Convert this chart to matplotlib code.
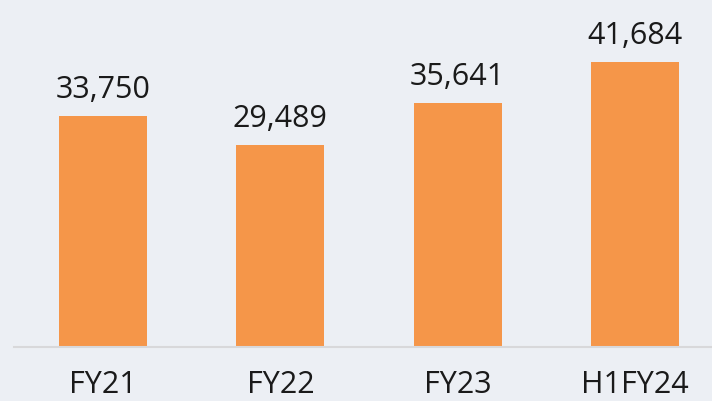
import numpy as np
import matplotlib.pyplot as plt

categories = ['FY21', 'FY22', 'FY23', 'H1FY24']
values = [33750, 29489, 35641, 41684]
labels = ['33,750', '29,489', '35,641', '41,684']

bg = '#ECEFF4'
fig = plt.figure(figsize=(7.12, 4.02), dpi=100, facecolor=bg)
ax = fig.add_axes([14 / 712, 54 / 402, 698 / 712, 348 / 402], facecolor=bg)

x = np.arange(len(categories))
ax.bar(x, values, width=0.496, color='#F59649', zorder=2)

for xi, v, t in zip(x, values, labels):
    ax.annotate(t, (xi, v), xytext=(0, 13.5), textcoords='offset points',
                ha='center', va='baseline', fontsize=22, family='Open Sans',
                color='#1a1a1a')

ax.set_xlim(-0.502, 3.434)
ax.set_ylim(0, 50847)
ax.set_xticks(x)
ax.set_xticklabels(categories, fontsize=22, family='Open Sans', color='#1a1a1a')
ax.tick_params(axis='x', length=0, pad=16)
ax.set_yticks([])
for s in ['top', 'left', 'right']:
    ax.spines[s].set_visible(False)
ax.spines['bottom'].set_color('#D8D8DA')
ax.spines['bottom'].set_linewidth(1.5)

fig.savefig('out.png', dpi=100, facecolor=bg)
